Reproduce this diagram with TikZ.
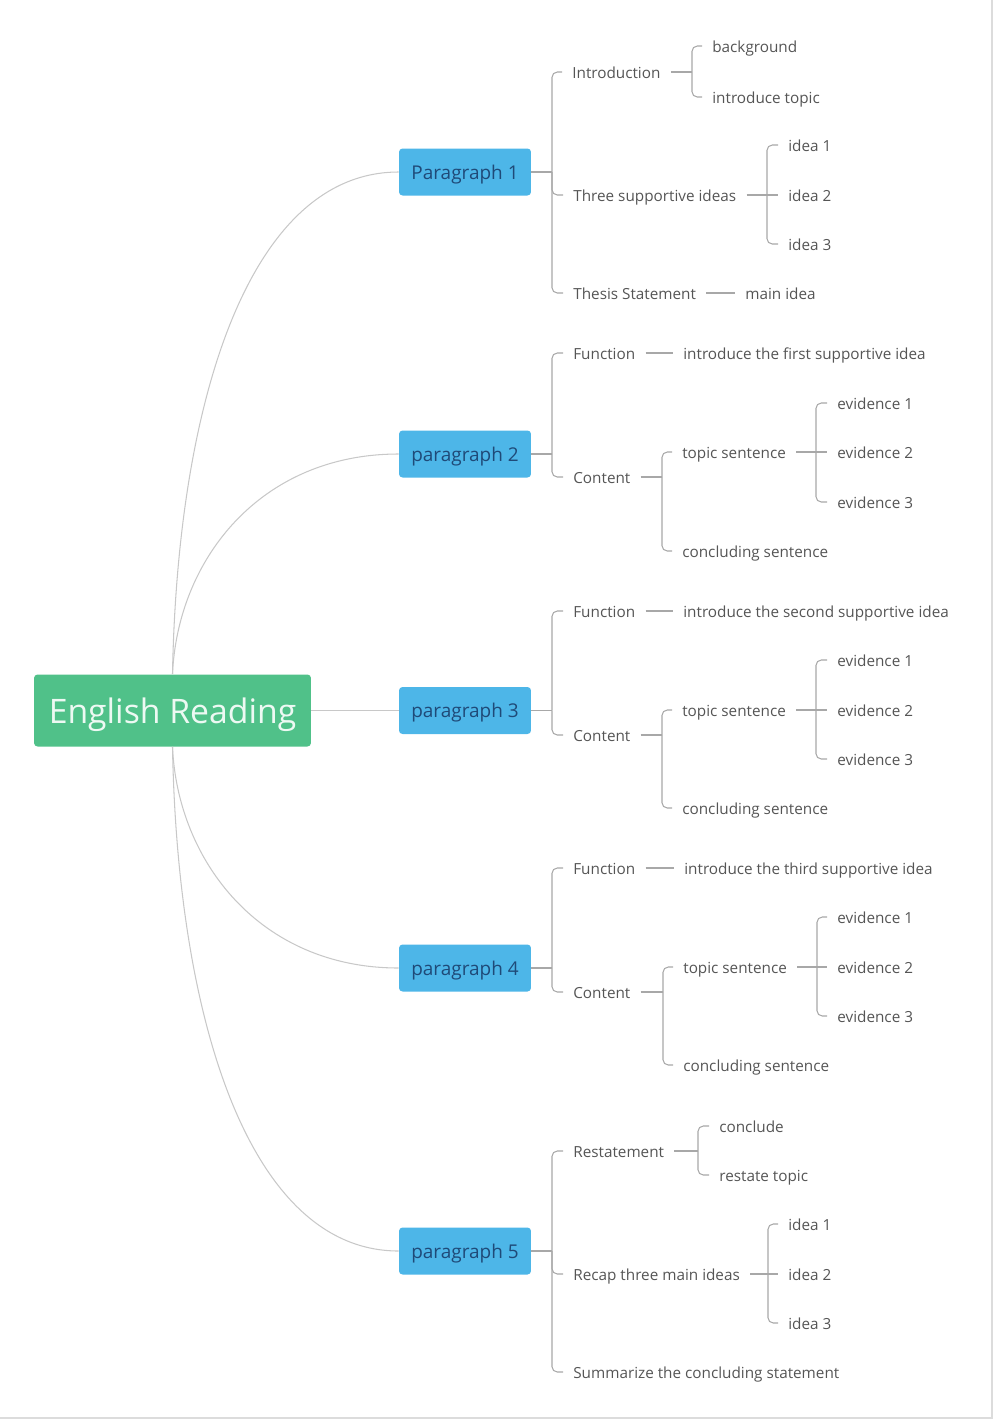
\documentclass[tikz,border=0pt]{standalone}
\usepackage{fontspec}
\setmainfont{Open Sans}
\definecolor{rootgreen}{HTML}{50C189}
\definecolor{parablue}{HTML}{4DB6E8}
\definecolor{paranavy}{HTML}{1F4A78}
\definecolor{txtgray}{HTML}{555555}
\definecolor{linegray}{HTML}{A8A8A8}
\definecolor{curvegray}{HTML}{C8C8C8}
\definecolor{framegray}{HTML}{DCDCDC}
\begin{document}
\begin{tikzpicture}[x=0.02cm,y=-0.02cm,
  root/.style={fill=rootgreen,rounded corners=2pt,minimum width=5.54cm,minimum height=1.44cm,
    text=white!90!rootgreen,text depth=0pt,font=\fontsize{19.2}{22}\selectfont},
  para/.style={fill=parablue,rounded corners=2pt,minimum width=2.64cm,minimum height=0.94cm,
    text=paranavy,text depth=0pt,font=\fontsize{10.8}{13}\selectfont},
  leaf/.style={anchor=west,inner xsep=0.2cm,inner ysep=1pt,text height=1.4ex,text depth=0pt,
    text=txtgray,font=\fontsize{8.7}{10}\selectfont},
  conn/.style={draw=linegray,line width=0.6pt,rounded corners=3pt},
  curve/.style={draw=curvegray,line width=0.6pt}
  ]
    \useasboundingbox (0,0) rectangle (1000,1428);
    \draw[framegray,line width=1.1pt] (992,0) -- (992,1418) -- (0,1418);

    \node[root] (root) at (172.5,710.5) {English Reading};
    \node[para] (p1) at (465,172) {Paragraph 1};
    \node[para] (p2) at (465,454) {paragraph 2};
    \node[para] (p3) at (465,710.5) {paragraph 3};
    \node[para] (p4) at (465,968) {paragraph 4};
    \node[para] (p5) at (465,1251) {paragraph 5};

    \draw[curve] (root.north) .. controls +(5,-274) and +(-149,0) .. (p1.west);
    \draw[curve] (root.north) .. controls +(5,-114) and +(-139,0) .. (p2.west);
    \draw[curve] (root.east) -- (p3.west);
    \draw[curve] (root.south) .. controls +(5,114) and +(-139,0) .. (p4.west);
    \draw[curve] (root.south) .. controls +(5,274) and +(-149,0) .. (p5.west);

    % paragraph 1
    \node[leaf] (p1intro) at (562,72) {Introduction};
    \node[leaf] (p1bg) at (702,46) {background};
    \node[leaf] (p1topic) at (702,97) {introduce topic};
    \node[leaf] (p1ideas) at (563,195) {Three supportive ideas};
    \node[leaf] (p1i1) at (778,145) {idea 1};
    \node[leaf] (p1i2) at (778,195) {idea 2};
    \node[leaf] (p1i3) at (778,244) {idea 3};
    \node[leaf] (p1thesis) at (563,293) {Thesis Statement};
    \node[leaf] (p1main) at (735,293) {main idea};
    \coordinate (b1) at (552,172);
    \coordinate (b1a) at (692,72);
    \coordinate (b1b) at (767,195);
    \draw[conn] (p1.east) -- (b1);
    \draw[conn] (b1) |- (p1intro.west);
    \draw[conn] (b1) |- (p1ideas.west);
    \draw[conn] (b1) |- (p1thesis.west);
    \draw[conn] (p1intro.east) -- (b1a);
    \draw[conn] (b1a) |- (p1bg.west);
    \draw[conn] (b1a) |- (p1topic.west);
    \draw[conn] (p1ideas.east) -- (b1b);
    \draw[conn] (b1b) |- (p1i1.west);
    \draw[conn] (b1b) -- (p1i2.west);
    \draw[conn] (b1b) |- (p1i3.west);
    \draw[conn] (p1thesis.east) -- (p1main.west);

    % paragraph 2
    \node[leaf] (p2fn) at (563,353) {Function};
    \node[leaf] (p2fntxt) at (673,353) {introduce the first supportive idea};
    \node[leaf] (p2ct) at (563,477) {Content};
    \node[leaf] (p2ts) at (672,452) {topic sentence};
    \node[leaf] (p2e1) at (827,403) {evidence 1};
    \node[leaf] (p2e2) at (827,452) {evidence 2};
    \node[leaf] (p2e3) at (827,502) {evidence 3};
    \node[leaf] (p2cs) at (672,551) {concluding sentence};
    \coordinate (b2) at (552,454);
    \coordinate (b2a) at (662,477);
    \coordinate (b2b) at (816,452);
    \draw[conn] (p2.east) -- (b2);
    \draw[conn] (b2) |- (p2fn.west);
    \draw[conn] (b2) |- (p2ct.west);
    \draw[conn] (p2fn.east) -- (p2fntxt.west);
    \draw[conn] (p2ct.east) -- (b2a);
    \draw[conn] (b2a) |- (p2ts.west);
    \draw[conn] (b2a) |- (p2cs.west);
    \draw[conn] (p2ts.east) -- (b2b);
    \draw[conn] (b2b) |- (p2e1.west);
    \draw[conn] (b2b) -- (p2e2.west);
    \draw[conn] (b2b) |- (p2e3.west);

    % paragraph 3
    \node[leaf] (p3fn) at (563,611) {Function};
    \node[leaf] (p3fntxt) at (673,611) {introduce the second supportive idea};
    \node[leaf] (p3ct) at (563,735) {Content};
    \node[leaf] (p3ts) at (672,710) {topic sentence};
    \node[leaf] (p3e1) at (827,660) {evidence 1};
    \node[leaf] (p3e2) at (827,710) {evidence 2};
    \node[leaf] (p3e3) at (827,759) {evidence 3};
    \node[leaf] (p3cs) at (672,808) {concluding sentence};
    \coordinate (b3) at (552,710.5);
    \coordinate (b3a) at (662,735);
    \coordinate (b3b) at (816,710);
    \draw[conn] (p3.east) -- (b3);
    \draw[conn] (b3) |- (p3fn.west);
    \draw[conn] (b3) |- (p3ct.west);
    \draw[conn] (p3fn.east) -- (p3fntxt.west);
    \draw[conn] (p3ct.east) -- (b3a);
    \draw[conn] (b3a) |- (p3ts.west);
    \draw[conn] (b3a) |- (p3cs.west);
    \draw[conn] (p3ts.east) -- (b3b);
    \draw[conn] (b3b) |- (p3e1.west);
    \draw[conn] (b3b) -- (p3e2.west);
    \draw[conn] (b3b) |- (p3e3.west);

    % paragraph 4
    \node[leaf] (p4fn) at (563,868) {Function};
    \node[leaf] (p4fntxt) at (674,868) {introduce the third supportive idea};
    \node[leaf] (p4ct) at (563,992) {Content};
    \node[leaf] (p4ts) at (673,967) {topic sentence};
    \node[leaf] (p4e1) at (827,917) {evidence 1};
    \node[leaf] (p4e2) at (827,967) {evidence 2};
    \node[leaf] (p4e3) at (827,1016) {evidence 3};
    \node[leaf] (p4cs) at (673,1065) {concluding sentence};
    \coordinate (b4) at (552,968);
    \coordinate (b4a) at (663,992);
    \coordinate (b4b) at (817,967);
    \draw[conn] (p4.east) -- (b4);
    \draw[conn] (b4) |- (p4fn.west);
    \draw[conn] (b4) |- (p4ct.west);
    \draw[conn] (p4fn.east) -- (p4fntxt.west);
    \draw[conn] (p4ct.east) -- (b4a);
    \draw[conn] (b4a) |- (p4ts.west);
    \draw[conn] (b4a) |- (p4cs.west);
    \draw[conn] (p4ts.east) -- (b4b);
    \draw[conn] (b4b) |- (p4e1.west);
    \draw[conn] (b4b) -- (p4e2.west);
    \draw[conn] (b4b) |- (p4e3.west);

    % paragraph 5
    \node[leaf] (p5rs) at (563,1151) {Restatement};
    \node[leaf] (p5cl) at (709,1126) {conclude};
    \node[leaf] (p5topic) at (709,1175) {restate topic};
    \node[leaf] (p5recap) at (563,1274) {Recap three main ideas};
    \node[leaf] (p5i1) at (778,1224) {idea 1};
    \node[leaf] (p5i2) at (778,1274) {idea 2};
    \node[leaf] (p5i3) at (778,1323) {idea 3};
    \node[leaf] (p5sum) at (563,1372) {Summarize the concluding statement};
    \coordinate (b5) at (552,1251);
    \coordinate (b5a) at (698,1151);
    \coordinate (b5b) at (768,1274);
    \draw[conn] (p5.east) -- (b5);
    \draw[conn] (b5) |- (p5rs.west);
    \draw[conn] (b5) |- (p5recap.west);
    \draw[conn] (b5) |- (p5sum.west);
    \draw[conn] (p5rs.east) -- (b5a);
    \draw[conn] (b5a) |- (p5cl.west);
    \draw[conn] (b5a) |- (p5topic.west);
    \draw[conn] (p5recap.east) -- (b5b);
    \draw[conn] (b5b) |- (p5i1.west);
    \draw[conn] (b5b) -- (p5i2.west);
    \draw[conn] (b5b) |- (p5i3.west);
\end{tikzpicture}
\end{document}
